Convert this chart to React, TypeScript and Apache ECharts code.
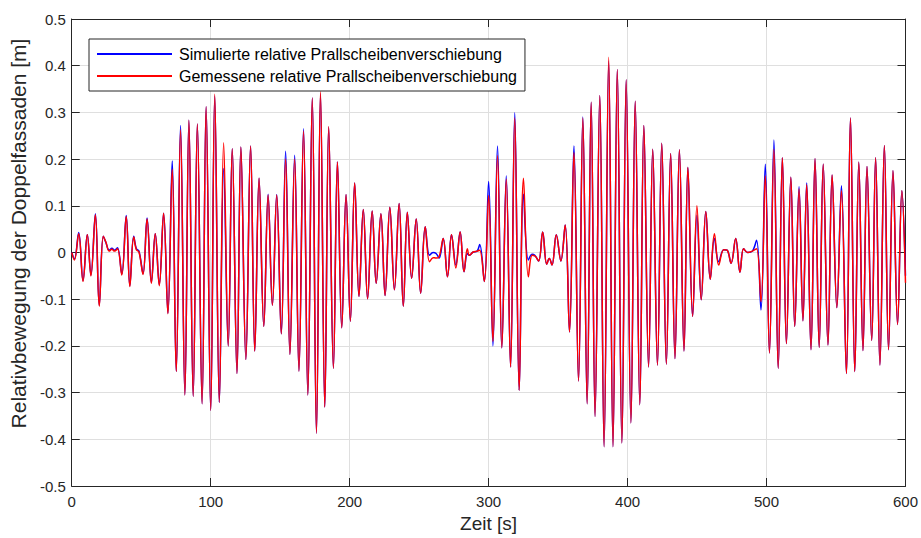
import React, { useEffect, useRef } from "react";
import * as echarts from "echarts";

// Time stamps of the turning points of the displacement record [s]
const time = [
  0, 1.9, 5.0, 8.1, 11.2, 13.8, 17.0, 19.8, 22.7, 24.5, 27.0, 28.9, 30.8, 32.9, 36.0, 39.2, 41.8, 44.6, 46.5, 48.4,
  51.3, 54.2, 57.3, 60.1, 63.0, 66.1, 69.2, 72.3, 75.2, 78.3, 81.4, 84.3, 87.4, 90.4, 93.8, 96.7, 100.0, 102.9,
  106.2, 109.3, 112.6, 115.5, 118.9, 121.7, 125.3, 128.7, 131.7, 134.8, 138.2, 141.3, 144.4, 147.5, 150.8, 153.9,
  157.0, 160.4, 163.5, 166.8, 169.9, 173.1, 176.1, 179.0, 182.1, 184.9, 188.3, 191.2, 194.3, 197.4, 200.5, 203.6,
  206.7, 209.8, 212.9, 216.2, 219.1, 222.5, 225.5, 228.9, 232.2, 235.6, 238.6, 241.5, 244.6, 247.9, 251.1, 254.4,
  257.5, 260.0, 262.2, 264.4, 267.3, 270.4, 273.3, 276.4, 279.5, 282.3, 284.7, 286.1, 288.9, 291.7, 293.6, 296.9,
  300.0, 303.1, 306.4, 309.5, 312.7, 315.8, 318.8, 322.0, 325.1, 328.6, 331.3, 333.2, 336.0, 338.9, 341.8, 343.7,
  345.6, 348.7, 352.0, 355.1, 358.2, 361.4, 364.7, 367.8, 370.9, 373.8, 376.6, 380.0, 383.1, 386.4, 389.5, 392.6,
  395.9, 399.0, 402.4, 405.5, 408.8, 411.7, 415.1, 418.1, 421.5, 424.6, 427.9, 431.0, 434.1, 437.3, 440.6, 443.4,
  446.8, 449.9, 453.0, 456.3, 459.5, 462.5, 465.6, 469.2, 471.6, 474.5, 477.8, 480.9, 483.5, 486.4, 489.8, 492.8,
  496.0, 499.1, 502.1, 505.3, 508.4, 511.4, 514.3, 517.5, 520.3, 523.4, 526.2, 528.9, 532.0, 534.9, 537.9, 540.8,
  544.2, 547.2, 550.6, 553.9, 557.5, 560.4, 563.5, 566.4, 569.4, 572.3, 575.7, 578.5, 581.6, 584.8, 587.8, 591.0,
  594.3, 597.4, 600.0,
];

// Simulated relative baffle displacement [m]
const simulated = [
  0, -0.014, 0.043, -0.06, 0.038, -0.048, 0.083, -0.113, 0.035, 0.022, 0.005, 0.009, 0.005, 0.01, -0.046, 0.079, -0.071, 0.035, 0.008, 0.003,
  -0.045, 0.074, -0.064, 0.04, -0.069, 0.084, -0.13, 0.196, -0.255, 0.272, -0.305, 0.283, -0.308, 0.275, -0.324, 0.312, -0.338, 0.335,
  -0.321, 0.18, -0.2, 0.222, -0.259, 0.226, -0.229, 0.228, -0.211, 0.159, -0.158, 0.125, -0.113, 0.124, -0.174, 0.217,
  -0.218, 0.208, -0.254, 0.265, -0.305, 0.331, -0.387, 0.34, -0.331, 0.268, -0.248, 0.194, -0.161, 0.124, -0.147, 0.149,
  -0.094, 0.092, -0.099, 0.089, -0.066, 0.083, -0.092, 0.097, -0.08, 0.105, -0.115, 0.086, -0.055, 0.072, -0.087, 0.055,
  -0.006, 0.0, -0.002, -0.012, 0.03, -0.052, 0.038, -0.027, 0.044, -0.041, -0.002, -0.006, 0.001, 0.003, 0.017, -0.062,
  0.152, -0.2, 0.228, -0.204, 0.164, -0.245, 0.299, -0.295, 0.125, -0.016, -0.004, -0.006, -0.018, 0.044, -0.025, -0.013,
  -0.027, 0.038, -0.018, 0.059, -0.17, 0.228, -0.275, 0.29, -0.324, 0.322, -0.351, 0.336, -0.416, 0.41, -0.416, 0.392,
  -0.408, 0.37, -0.365, 0.324, -0.326, 0.272, -0.245, 0.221, -0.241, 0.234, -0.239, 0.212, -0.227, 0.22, -0.211, 0.182,
  -0.137, 0.08, -0.101, 0.088, -0.057, 0.03, -0.02, 0.006, 0.005, -0.023, 0.03, -0.042, 0.008, 0.0, 0.003, 0.026,
  -0.123, 0.189, -0.215, 0.241, -0.248, 0.203, -0.195, 0.161, -0.158, 0.141, -0.146, 0.149, -0.208, 0.201, -0.203, 0.189,
  -0.198, 0.166, -0.118, 0.143, -0.259, 0.288, -0.255, 0.193, -0.21, 0.184, -0.188, 0.203, -0.241, 0.229, -0.208, 0.175,
  -0.154, 0.132, -0.05,
];

// Measured relative baffle displacement [m]
const measured = [
  0, -0.016, 0.04, -0.062, 0.038, -0.05, 0.081, -0.115, 0.035, 0.023, 0.003, 0.007, 0.003, 0.008, -0.048, 0.077, -0.073, 0.033, 0.006, 0.001,
  -0.047, 0.072, -0.066, 0.04, -0.071, 0.084, -0.131, 0.178, -0.255, 0.263, -0.305, 0.283, -0.308, 0.275, -0.324, 0.312, -0.338, 0.339,
  -0.321, 0.235, -0.2, 0.222, -0.259, 0.226, -0.229, 0.228, -0.211, 0.159, -0.158, 0.123, -0.113, 0.123, -0.174, 0.2,
  -0.218, 0.2, -0.254, 0.26, -0.305, 0.331, -0.387, 0.345, -0.331, 0.27, -0.248, 0.194, -0.161, 0.124, -0.147, 0.149,
  -0.094, 0.092, -0.099, 0.089, -0.066, 0.083, -0.092, 0.097, -0.08, 0.105, -0.115, 0.086, -0.055, 0.072, -0.087, 0.055,
  -0.02, -0.011, -0.012, -0.009, 0.03, -0.052, 0.038, -0.033, 0.044, -0.041, 0.008, -0.006, 0.001, 0.003, 0.005, -0.062,
  0.122, -0.19, 0.207, -0.204, 0.157, -0.245, 0.288, -0.295, 0.159, -0.052, -0.006, -0.007, -0.018, 0.044, -0.025, -0.013,
  -0.027, 0.038, -0.018, 0.059, -0.17, 0.214, -0.275, 0.288, -0.324, 0.322, -0.351, 0.336, -0.416, 0.418, -0.416, 0.392,
  -0.408, 0.37, -0.365, 0.324, -0.326, 0.272, -0.245, 0.221, -0.241, 0.234, -0.239, 0.212, -0.227, 0.22, -0.211, 0.182,
  -0.137, 0.1, -0.101, 0.088, -0.057, 0.04, -0.027, 0.006, 0.005, -0.023, 0.03, -0.042, 0.008, 0.0, 0.003, 0.008,
  -0.105, 0.164, -0.215, 0.221, -0.248, 0.203, -0.195, 0.161, -0.158, 0.136, -0.146, 0.145, -0.208, 0.201, -0.203, 0.189,
  -0.198, 0.166, -0.118, 0.132, -0.259, 0.288, -0.255, 0.193, -0.21, 0.184, -0.188, 0.203, -0.241, 0.229, -0.208, 0.175,
  -0.154, 0.132, -0.065,
];

const seriesNames = [
  "Simulierte relative Prallscheibenverschiebung",
  "Gemessene relative Prallscheibenverschiebung",
];
const xAxisTitle = "Zeit [s]";
const yAxisTitle = "Relativbewegung der Doppelfassaden [m]";

const FONT = "'Liberation Sans', Arial, Helvetica, sans-serif";
const AXIS_COLOR = "#262626";
const GRID_COLOR = "#dfdfdf";

export default function App() {
  const ref = useRef<HTMLDivElement>(null);

  useEffect(() => {
    if (!ref.current) return;
    const chart = echarts.init(ref.current, undefined, { renderer: "svg" });

    const pairs = (vals: number[]) => time.map((t, i) => [t, vals[i]]);

    const tick = { show: true, inside: true, length: 8, lineStyle: { color: AXIS_COLOR, width: 1 } };
    const line = { show: true, onZero: false, lineStyle: { color: AXIS_COLOR, width: 1 } };

    chart.setOption({
      animation: false,
      backgroundColor: "#ffffff",
      textStyle: { fontFamily: FONT },
      grid: { left: 69, right: 14, top: 19, bottom: 48, containLabel: false },
      legend: {
        orient: "vertical",
        left: 89,
        top: 39,
        icon: "rect",
        itemWidth: 75,
        itemHeight: 2,
        itemGap: 4,
        padding: [6, 8, 6, 8],
        backgroundColor: "#ffffff",
        borderColor: AXIS_COLOR,
        borderWidth: 1,
        borderRadius: 0,
        selectedMode: false,
        textStyle: { fontFamily: FONT, fontSize: 16, color: "#000000", lineHeight: 18, padding: [0, 0, 0, 2] },
        data: seriesNames,
      },
      xAxis: [
        {
          type: "value",
          min: 0,
          max: 600,
          interval: 100,
          position: "bottom",
          name: xAxisTitle,
          nameLocation: "middle",
          nameGap: 28,
          nameTextStyle: { fontFamily: FONT, fontSize: 19, color: AXIS_COLOR },
          axisLine: line,
          axisTick: tick,
          axisLabel: { fontFamily: FONT, fontSize: 15, color: AXIS_COLOR, margin: 8 },
          splitLine: { show: true, lineStyle: { color: GRID_COLOR, width: 1 } },
        },
        {
          type: "value",
          min: 0,
          max: 600,
          interval: 100,
          position: "top",
          axisLine: line,
          axisTick: tick,
          axisLabel: { show: false },
          splitLine: { show: false },
        },
      ],
      yAxis: [
        {
          type: "value",
          min: -0.5,
          max: 0.5,
          interval: 0.1,
          position: "left",
          name: yAxisTitle,
          nameLocation: "middle",
          nameGap: 40,
          nameTextStyle: { fontFamily: FONT, fontSize: 21, color: AXIS_COLOR, padding: [0, 0, 0, 38] },
          axisLine: line,
          axisTick: tick,
          axisLabel: {
            fontFamily: FONT,
            fontSize: 15,
            color: AXIS_COLOR,
            margin: 6,
            formatter: (v: number) => String(Number(v.toFixed(1))),
          },
          splitLine: { show: true, lineStyle: { color: GRID_COLOR, width: 1 } },
        },
        {
          type: "value",
          min: -0.5,
          max: 0.5,
          interval: 0.1,
          position: "right",
          axisLine: line,
          axisTick: tick,
          axisLabel: { show: false },
          splitLine: { show: false },
        },
      ],
      series: [
        {
          name: seriesNames[0],
          type: "line",
          data: pairs(simulated),
          smooth: 0.4,
          showSymbol: false,
          symbol: "none",
          color: "#0000ff",
          lineStyle: { color: "#0000ff", width: 1.5 },
          z: 2,
        },
        {
          name: seriesNames[1],
          type: "line",
          data: pairs(measured),
          smooth: 0.4,
          showSymbol: false,
          symbol: "none",
          color: "#ff0000",
          lineStyle: { color: "#ff0000", width: 1.5 },
          z: 3,
        },
      ],
    });

    return () => chart.dispose();
  }, []);

  return <div ref={ref} style={{ width: 921, height: 538, position: "absolute", left: 0, top: 0 }} />;
}
